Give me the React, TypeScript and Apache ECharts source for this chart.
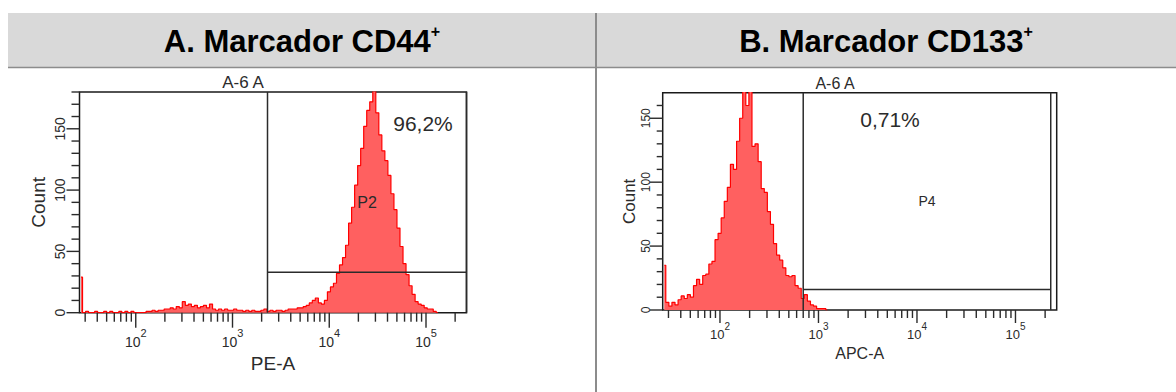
import React, { useEffect, useRef } from "react";
import * as echarts from "echarts";

const FONT = "Liberation Sans, Arial, sans-serif";

// Log axis extent of the FACS plots (4 decades)
const X_MIN = 26.2144;
const X_MAX = 262144;
const BIN_LOG_START = Math.log10(X_MIN);
const BIN_LOG_WIDTH = 1 / 32; // histogram bins: 1/32 decade

// Panel titles
const panelTitles = ["A. Marcador CD44", "B. Marcador CD133"];
const plotTitles = ["A-6 A", "A-6 A"];
const xAxisNames = ["PE-A", "APC-A"];
const yAxisName = "Count";
const gateNames = ["P2", "P4"];
const gatePercents = ["96,2%", "0,71%"];

// Histogram counts (PE-A, CD44) per bin
const countsCD44 = [
  29, 0, 1, 0, 0, 1, 0, 0, 1, 0,
  1, 0, 0, 1, 0, 1, 0, 1, 0, 0,
  0, 0, 1, 1, 2, 1, 2, 2, 3, 3,
  4, 3, 5, 4, 9, 6, 7, 5, 6, 4,
  5, 6, 4, 7, 3, 2, 3, 2, 3, 2,
  2, 3, 2, 2, 1, 2, 1, 2, 1, 1,
  2, 3, 1, 2, 1, 2, 2, 1, 2, 3,
  3, 3, 4, 4, 5, 6, 8, 10, 12, 8,
  7, 10, 17, 21, 24, 32, 39, 45, 55, 73,
  86, 104, 120, 134, 152, 165, 172, 181, 163, 145,
  132, 124, 112, 97, 84, 69, 54, 40, 31, 22,
  15, 9, 7, 6, 4, 3, 3, 1, 0,
];

// Histogram counts (APC-A, CD133) per bin
const countsCD133 = [
  35, 6, 3, 6, 4, 8, 11, 9, 12, 10,
  19, 24, 20, 27, 28, 36, 38, 55, 60, 72,
  85, 96, 114, 110, 132, 150, 175, 160, 172, 128,
  130, 116, 95, 92, 77, 67, 52, 43, 39, 33,
  27, 26, 27, 19, 17, 9, 12, 7, 4, 3,
  1, 1, 1, 0,
];

// Gates: [left bound, right bound, marker level]
const gateP2 = [2300, 262144, 33];
const gateP4 = [700, 228000, 16];

// Y axis maxima
const yMaxA = 180;
const yMaxB = 170;

// Tick values
const xTicks = [
  30, 40, 50, 60, 70, 80, 90,
  100, 200, 300, 400, 500, 600, 700, 800, 900,
  1000, 2000, 3000, 4000, 5000, 6000, 7000, 8000, 9000,
  10000, 20000, 30000, 40000, 50000, 60000, 70000, 80000, 90000,
  100000, 200000,
];
const xMajorTicks = [100, 1000, 10000, 100000];
const yTicksA = [0, 10, 20, 30, 40, 50, 60, 70, 80, 90, 100, 110, 120, 130, 140, 150, 160, 170, 180];
const yTicksB = [0, 10, 20, 30, 40, 50, 60, 70, 80, 90, 100, 110, 120, 130, 140, 150, 160];
const yMajorTicks = [0, 50, 100, 150];

const binCenter = (i: number) => Math.pow(10, BIN_LOG_START + (i + 0.5) * BIN_LOG_WIDTH);

const INK = "#2b2b2b";

function xTickSeries(idx: number, minorLen: number, majorLen: number) {
  return {
    type: "custom",
    xAxisIndex: idx,
    yAxisIndex: idx,
    silent: true,
    z: 5,
    data: xTicks.map((v) => [v, 0]),
    renderItem: (_p: any, api: any) => {
      const v = api.value(0);
      const pt = api.coord([v, 0]);
      const len = xMajorTicks.includes(v) ? majorLen : minorLen;
      return {
        type: "line",
        shape: { x1: pt[0], y1: pt[1], x2: pt[0], y2: pt[1] + len },
        style: { stroke: INK, lineWidth: 1.4 },
      };
    },
  };
}

function yTickSeries(idx: number, ticks: number[], minorLen: number, majorLen: number) {
  return {
    type: "custom",
    xAxisIndex: idx,
    yAxisIndex: idx,
    silent: true,
    z: 5,
    data: ticks.map((v) => [X_MIN, v]),
    renderItem: (_p: any, api: any) => {
      const v = api.value(1);
      const pt = api.coord([X_MIN, v]);
      const len = yMajorTicks.includes(v) ? majorLen : minorLen;
      return {
        type: "line",
        shape: { x1: pt[0] - len, y1: pt[1], x2: pt[0], y2: pt[1] },
        style: { stroke: INK, lineWidth: 1.4 },
      };
    },
  };
}

function gateSeries(idx: number, gate: number[], yMax: number, label: string, labelSize: number) {
  return {
    type: "custom",
    xAxisIndex: idx,
    yAxisIndex: idx,
    silent: true,
    z: 6,
    encode: { x: [0, 1], y: [2, 3] },
    data: [[gate[0], gate[1], gate[2], yMax]],
    renderItem: (_p: any, api: any) => {
      const xl = api.value(0);
      const xr = api.value(1);
      const lvl = api.value(2);
      const top = api.value(3);
      const bl = api.coord([xl, 0]);
      const br = api.coord([xr, 0]);
      const tl = api.coord([xl, top]);
      const yl = api.coord([xl, lvl])[1];
      const c = api.coord([Math.sqrt(xl * xr), top / 2]);
      const st = { stroke: INK, lineWidth: 1.5 };
      return {
        type: "group",
        children: [
          { type: "line", shape: { x1: bl[0], y1: tl[1], x2: bl[0], y2: bl[1] }, style: st },
          { type: "line", shape: { x1: br[0], y1: tl[1], x2: br[0], y2: br[1] }, style: st },
          { type: "line", shape: { x1: bl[0], y1: yl, x2: br[0], y2: yl }, style: st },
          {
            type: "text",
            x: c[0],
            y: c[1],
            style: {
              text: label,
              fill: INK,
              fontSize: labelSize,
              fontFamily: FONT,
              align: "center",
              verticalAlign: "middle",
            },
          },
        ],
      };
    },
  };
}

function histSeries(idx: number, counts: number[]) {
  return {
    type: "line",
    xAxisIndex: idx,
    yAxisIndex: idx,
    silent: true,
    step: "middle",
    symbol: "none",
    z: 2,
    lineStyle: { color: "#ff0000", width: 1.2 },
    areaStyle: { color: "#ff6060", opacity: 1 },
    data: counts.map((c, i) => [binCenter(i), c]),
  };
}

function decadeFormatter(v: number) {
  const e = Math.log10(v);
  const r = Math.round(e);
  if (Math.abs(e - r) < 1e-6 && r >= 2 && r <= 5) return `{b|10}{s|${r}}`;
  return "";
}

function xAxisCfg(idx: number, name: string, labelSize: number, supSize: number, margin: number, nameSize: number, nameGap: number) {
  return {
    gridIndex: idx,
    type: "log",
    logBase: 10,
    min: X_MIN,
    max: X_MAX,
    axisLine: { show: false },
    axisTick: { show: false },
    splitLine: { show: false },
    axisLabel: {
      margin,
      formatter: decadeFormatter,
      showMinLabel: false,
      showMaxLabel: false,
      rich: {
        b: { fontSize: labelSize, color: INK, fontFamily: FONT, verticalAlign: "bottom", lineHeight: labelSize + 7 },
        s: { fontSize: supSize, color: INK, fontFamily: FONT, verticalAlign: "top", lineHeight: supSize },
      },
    },
    name,
    nameLocation: "middle",
    nameGap,
    nameTextStyle: { fontSize: nameSize, color: INK, fontFamily: FONT },
  };
}

function yAxisCfg(idx: number, max: number, labelSize: number, margin: number, nameSize: number, nameGap: number) {
  return {
    gridIndex: idx,
    type: "value",
    min: 0,
    max,
    interval: 50,
    axisLine: { show: false },
    axisTick: { show: false },
    splitLine: { show: false },
    axisLabel: {
      rotate: 90,
      margin,
      fontSize: labelSize,
      color: INK,
      fontFamily: FONT,
      showMaxLabel: false,
      formatter: (v: number) => (v % 50 === 0 ? String(v) : ""),
    },
    name: yAxisName,
    nameLocation: "middle",
    nameGap,
    nameTextStyle: { fontSize: nameSize, color: INK, fontFamily: FONT },
  };
}

function titleText(x: number, text: string) {
  return {
    type: "text",
    x,
    y: 40,
    z: 10,
    style: {
      text: `{t|${text}}{s|+}`,
      align: "center",
      verticalAlign: "middle",
      rich: {
        t: { fontSize: 31, fontWeight: "bold", fontFamily: FONT, fill: "#000", lineHeight: 34, verticalAlign: "bottom" },
        s: { fontSize: 16, fontWeight: "bold", fontFamily: FONT, fill: "#000", lineHeight: 25, verticalAlign: "top" },
      },
    },
  };
}

function plainText(x: number, y: number, text: string, size: number) {
  return {
    type: "text",
    x,
    y,
    z: 10,
    style: { text, fill: INK, fontSize: size, fontFamily: FONT, align: "center", verticalAlign: "middle" },
  };
}

export default function App() {
  const ref = useRef<HTMLDivElement>(null);
  useEffect(() => {
    if (!ref.current) return;
    const chart = echarts.init(ref.current, undefined, { renderer: "svg" });
    chart.setOption({
      animation: false,
      backgroundColor: "#ffffff",
      grid: [
        { left: 79.5, top: 92, width: 387, height: 220.7, show: true, borderColor: "#1a1a1a", borderWidth: 1.5, backgroundColor: "transparent", containLabel: false },
        { left: 662.7, top: 92.7, width: 394, height: 217.3, show: true, borderColor: "#1a1a1a", borderWidth: 1.5, backgroundColor: "transparent", containLabel: false },
      ],
      xAxis: [
        xAxisCfg(0, xAxisNames[0], 14, 11, 15, 19, 40),
        xAxisCfg(1, xAxisNames[1], 13, 10, 11, 16, 33),
      ],
      yAxis: [
        yAxisCfg(0, yMaxA, 14, 13, 19, 32),
        yAxisCfg(1, yMaxB, 12, 11, 17, 25),
      ],
      series: [
        histSeries(0, countsCD44),
        histSeries(1, countsCD133),
        gateSeries(0, gateP2, yMaxA, gateNames[0], 16),
        gateSeries(1, gateP4, yMaxB, gateNames[1], 14),
        xTickSeries(0, 9, 15),
        xTickSeries(1, 8, 13),
        yTickSeries(0, yTicksA, 8, 13),
        yTickSeries(1, yTicksB, 6, 13),
      ],
      graphic: [
        { type: "rect", z: 0, shape: { x: 8, y: 13, width: 1168, height: 54 }, style: { fill: "#d9d9d9" } },
        { type: "line", z: 1, shape: { x1: 8, y1: 67.5, x2: 1176, y2: 67.5 }, style: { stroke: "#8c8c8c", lineWidth: 1.5 } },
        { type: "line", z: 1, shape: { x1: 596, y1: 13, x2: 596, y2: 392 }, style: { stroke: "#8c8c8c", lineWidth: 2 } },
        titleText(302, panelTitles[0]),
        titleText(886, panelTitles[1]),
        plainText(243, 82, plotTitles[0], 17),
        plainText(835, 83, plotTitles[1], 16),
        plainText(423, 123, gatePercents[0], 21),
        plainText(890, 119, gatePercents[1], 21),
      ],
    });
    return () => chart.dispose();
  }, []);
  return <div ref={ref} style={{ position: "absolute", left: 0, top: 0, width: 1176, height: 392 }} />;
}
